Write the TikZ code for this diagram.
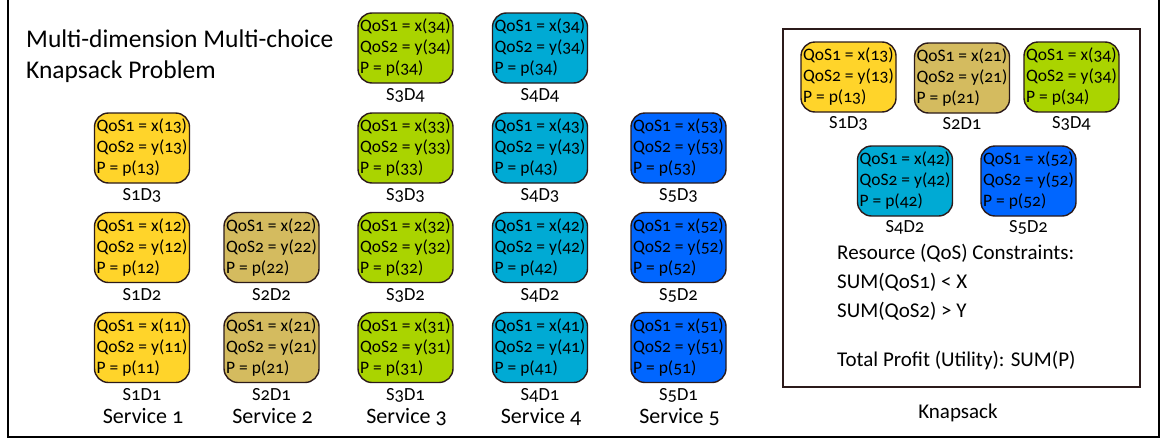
\documentclass[tikz,border=0pt]{standalone}
\usepackage{fontspec}
\setmainfont{Carlito}[Numbers=OldStyle]
\usetikzlibrary{positioning}
\definecolor{cA}{HTML}{FFD42A}
\definecolor{cB}{HTML}{D4BB5F}
\definecolor{cC}{HTML}{AAD400}
\definecolor{cD}{HTML}{00AAD4}
\definecolor{cE}{HTML}{0066FF}
\definecolor{bord}{HTML}{2B1A1A}
\newcommand{\bx}[1]{QoS1 = x(#1)\\QoS2 = y(#1)\\P = p(#1)}
\tikzset{
  optbox/.style={draw=bord, line width=1.4pt, rounded corners=14pt,
    minimum width=95pt, minimum height=70pt, inner sep=1pt, align=left,
    font=\fontsize{17.5}{21}\selectfont,
    execute at begin node={\rule{0pt}{20pt}}},
  lbl/.style={font=\fontsize{18.5}{20}\selectfont, inner sep=0pt, anchor=base},
  svc/.style={font=\fontsize{22}{26}\selectfont, inner sep=0pt, anchor=base},
  kt/.style={font=\fontsize{21}{24}\selectfont, inner sep=0pt, anchor=base west},
}
\begin{document}
\begin{tikzpicture}[x=1pt,y=-1pt]
\useasboundingbox (0,0) rectangle (1162,442);
% outer frame
\draw[line width=1.8pt, black] (8,-2) -- (8,437) -- (1159,437) -- (1159,-2);
% title
\node[anchor=base west, inner sep=0pt, font=\fontsize{25.5}{31}\selectfont] (t1) at (26,47) {Multi-dimension Multi-choice};
\node[anchor=base west, inner sep=0pt, font=\fontsize{25.5}{31}\selectfont] (t2) at (26,78) {Knapsack Problem};
% columns
\foreach \s/\col/\cx/\n in {1/cA/142/3, 2/cB/271.5/2, 3/cC/405.5/4, 4/cD/540/4, 5/cE/678.5/3}{
  \foreach \d/\cy in {1/347.5, 2/247.5, 3/148, 4/48}{
    \ifnum\d>\n\relax\else
      \ifnum\s\d=44 \def\val{34}\else\edef\val{\s\d}\fi
      \node[optbox, fill=\col] (b\s\d) at (\cx,\cy) {\bx{\val}};
      \node[lbl] (l\s\d) at ([yshift=-17pt]b\s\d.south) {S\s D\d};
    \fi
  }
  \node[svc] (sv\s) at (\cx+1,423) {Service \s};
}
% knapsack
\draw[draw=bord, line width=1.4pt] (783,29) rectangle (1140,387);
\node[optbox, fill=cA] (k13) at (848.5,77) {\bx{13}};
\node[lbl] (kl13) at ([yshift=-16pt]k13.south) {S1D3};
\node[optbox, fill=cB] (k21) at (962,78) {\bx{21}};
\node[lbl] (kl21) at ([yshift=-16pt]k21.south) {S2D1};
\node[optbox, fill=cC] (k34) at (1071.5,77) {\bx{34}};
\node[lbl] (kl34) at ([yshift=-16pt]k34.south) {S3D4};
\node[optbox, fill=cD] (k42) at (905,181) {\bx{42}};
\node[lbl] (kl42) at ([yshift=-16pt]k42.south) {S4D2};
\node[optbox, fill=cE] (k52) at (1028.5,181) {\bx{52}};
\node[lbl] (kl52) at ([yshift=-16pt]k52.south) {S5D2};
\node[kt] (r1) at (837,259) {Resource (QoS) Constraints:};
\node[kt] (r2) at (837,288) {SUM(QoS1) < X};
\node[kt] (r3) at (837,317) {SUM(QoS2) > Y};
\node[kt] (r4) at (837,366) {Total Profit (Utility): SUM(P)};
\node[svc, font=\fontsize{21}{24}\selectfont] (kn) at (958,418) {Knapsack};
\end{tikzpicture}
\end{document}
